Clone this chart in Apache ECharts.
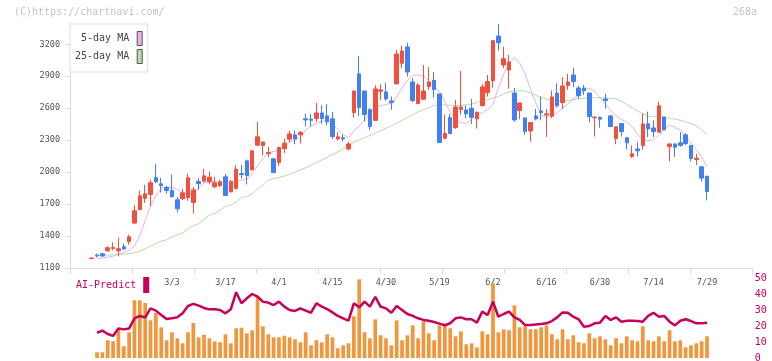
<!DOCTYPE html>
<html>
<head>
<meta charset="utf-8">
<script src="https://cdn.jsdelivr.net/npm/echarts@6/dist/echarts.min.js"></script>
<style>
    html, body { margin: 0; padding: 0; background: #fff; }
    #chart { width: 772px; height: 361px; }
</style>
</head>
<body>
<div id="chart"></div>
<script>
// trading days (2026), one per candle
const dates = [
    '2/6', '2/9', '2/10', '2/12', '2/13', '2/16', '2/17', '2/18', '2/19', '2/20',
    '2/24', '2/25', '2/26', '2/27', '3/2', '3/3', '3/4', '3/5', '3/6', '3/9',
    '3/10', '3/11', '3/12', '3/13', '3/16', '3/17', '3/18', '3/19', '3/23', '3/24',
    '3/25', '3/26', '3/27', '3/30', '3/31', '4/1', '4/2', '4/3', '4/6', '4/7',
    '4/8', '4/9', '4/10', '4/13', '4/14', '4/15', '4/16', '4/17', '4/20', '4/21',
    '4/22', '4/23', '4/24', '4/27', '4/28', '4/30', '5/1', '5/7', '5/8', '5/11',
    '5/12', '5/13', '5/14', '5/15', '5/18', '5/19', '5/20', '5/21', '5/22', '5/25',
    '5/26', '5/27', '5/28', '5/29', '6/1', '6/2', '6/3', '6/4', '6/5', '6/8',
    '6/9', '6/10', '6/11', '6/12', '6/15', '6/16', '6/17', '6/18', '6/19', '6/22',
    '6/23', '6/24', '6/25', '6/26', '6/29', '6/30', '7/1', '7/2', '7/3', '7/6',
    '7/7', '7/8', '7/9', '7/10', '7/13', '7/14', '7/15', '7/16', '7/17', '7/21',
    '7/22', '7/23', '7/24', '7/27', '7/28', '7/29'
];
// dates that get a label under the chart
const tickDates = ['3/3', '3/17', '4/1', '4/15', '4/30', '5/19', '6/2', '6/16', '6/30', '7/14', '7/29'];
const priceTicks = [1100, 1400, 1700, 2000, 2300, 2600, 2900, 3200];

const openP = [
    1190, 1222, 1234, 1262, 1284, 1262, 1300, 1346, 1522, 1647,
    1753, 1790, 1947, 1890, 1856, 1828, 1740, 1750, 1762, 1715,
    1912, 1916, 1909, 1862, 1872, 1956, 1815, 1846, 1987, 2106,
    2022, 2253, 2250, 2175, 2125, 2090, 2222, 2309, 2350, 2350,
    2500, 2497, 2503, 2556, 2528, 2500, 2312, 2322, 2218, 2559,
    2922, 2762, 2587, 2484, 2759, 2753, 2668, 2828, 3022, 3175,
    2847, 2643, 2684, 2803, 2862, 2734, 2318, 2512, 2418, 2587,
    2584, 2600, 2500, 2625, 2746, 2859, 3278, 3006, 2959, 2743,
    2578, 2509, 2387, 2528, 2575, 2537, 2525, 2740, 2653, 2812,
    2912, 2790, 2790, 2743, 2512, 2515, 2687, 2528, 2315, 2456,
    2322, 2147, 2218, 2250, 2453, 2415, 2375, 2518, 2240, 2265,
    2275, 2350, 2250, 2118, 2050, 1962
];
const closeP = [
    1194, 1214, 1212, 1290, 1293, 1281, 1278, 1393, 1637, 1778,
    1797, 1900, 1909, 1872, 1828, 1768, 1656, 1806, 1947, 1834,
    1893, 1965, 1953, 1900, 1909, 1781, 1909, 2028, 1978, 1968,
    2200, 2331, 2284, 2184, 1996, 2231, 2272, 2359, 2312, 2372,
    2490, 2487, 2556, 2503, 2472, 2334, 2331, 2312, 2265, 2762,
    2606, 2540, 2428, 2781, 2772, 2687, 2653, 3109, 3137, 2940,
    2672, 2818, 2762, 2847, 2775, 2278, 2362, 2362, 2612, 2612,
    2547, 2515, 2562, 2800, 2850, 3234, 3215, 3065, 3034, 2490,
    2650, 2381, 2465, 2500, 2559, 2547, 2706, 2622, 2809, 2847,
    2850, 2718, 2765, 2522, 2518, 2497, 2672, 2428, 2425, 2381,
    2275, 2172, 2200, 2453, 2406, 2381, 2622, 2397, 2265, 2234,
    2250, 2268, 2128, 2131, 1944, 1818
];
const lowP = [
    1188, 1199, 1209, 1253, 1265, 1209, 1272, 1318, 1515, 1647,
    1712, 1678, 1897, 1809, 1797, 1765, 1621, 1740, 1731, 1612,
    1834, 1903, 1887, 1850, 1862, 1775, 1809, 1840, 1940, 1884,
    2015, 2253, 2156, 2143, 1996, 2059, 2178, 2278, 2262, 2268,
    2428, 2428, 2472, 2453, 2440, 2309, 2297, 2287, 2203, 2512,
    2528, 2475, 2397, 2484, 2678, 2672, 2584, 2828, 2975, 2896,
    2656, 2643, 2684, 2772, 2700, 2278, 2309, 2362, 2406, 2537,
    2506, 2453, 2409, 2615, 2709, 2793, 3140, 2975, 2784, 2475,
    2497, 2350, 2287, 2487, 2487, 2331, 2506, 2606, 2593, 2772,
    2797, 2687, 2725, 2469, 2334, 2418, 2597, 2422, 2262, 2334,
    2212, 2134, 2147, 2209, 2328, 2328, 2375, 2397, 2100, 2143,
    2240, 2253, 2100, 2068, 1912, 1734
];
const highP = [
    1196, 1234, 1240, 1303, 1340, 1384, 1328, 1412, 1690, 1828,
    1881, 1928, 2078, 1947, 1872, 1978, 1768, 1843, 1984, 1859,
    1944, 2031, 2006, 1956, 1928, 1984, 1928, 2068, 2068, 2118,
    2203, 2472, 2284, 2237, 2134, 2240, 2315, 2390, 2390, 2387,
    2547, 2547, 2650, 2628, 2640, 2565, 2375, 2353, 2284, 2762,
    3090, 2762, 2600, 2815, 2825, 2840, 2709, 3147, 3187, 3215,
    2884, 2834, 3006, 2987, 2940, 2734, 2540, 2547, 2678, 2950,
    2625, 2687, 2568, 2825, 2912, 3240, 3390, 3178, 3100, 2790,
    2650, 2509, 2465, 2593, 2709, 2593, 2768, 2834, 2890, 2922,
    2978, 2809, 2818, 2743, 2518, 2522, 2734, 2537, 2425, 2456,
    2322, 2250, 2281, 2553, 2568, 2487, 2659, 2518, 2265, 2265,
    2375, 2365, 2256, 2172, 2059, 1962
];
const ma5 = [
    null, 1186, 1193, 1201, 1211, 1229, 1245, 1267, 1309, 1403,
    1543, 1684, 1778, 1850, 1859, 1859, 1839, 1801, 1797, 1803,
    1848, 1900, 1912, 1909, 1904, 1911, 1912, 1918, 1923, 1934,
    1990, 2060, 2130, 2181, 2195, 2203, 2233, 2284, 2303, 2327,
    2397, 2431, 2458, 2474, 2488, 2456, 2400, 2354, 2322, 2387,
    2434, 2490, 2551, 2600, 2625, 2635, 2645, 2706, 2790, 2860,
    2908, 2912, 2903, 2860, 2800, 2758, 2659, 2561, 2495, 2462,
    2458, 2493, 2537, 2556, 2584, 2640, 2790, 2922, 3020, 3076,
    3022, 2922, 2781, 2650, 2533, 2518, 2533, 2556, 2598, 2640,
    2687, 2726, 2767, 2787, 2762, 2697, 2640, 2579, 2528, 2495,
    2467, 2429, 2354, 2308, 2295, 2303, 2350, 2397, 2443, 2420,
    2397, 2340, 2275, 2209, 2143, 2053
];
const ma25 = [
    null, 1215, 1218, 1221, 1224, 1227, 1230, 1234, 1242, 1259,
    1280, 1305, 1330, 1352, 1365, 1390, 1414, 1427, 1464, 1497,
    1517, 1558, 1597, 1612, 1644, 1678, 1690, 1718, 1764, 1771,
    1795, 1843, 1876, 1923, 1939, 1950, 1963, 1980, 2000, 2020,
    2040, 2066, 2090, 2115, 2140, 2165, 2190, 2220, 2250, 2280,
    2305, 2324, 2344, 2365, 2388, 2412, 2435, 2460, 2485, 2511,
    2539, 2564, 2585, 2606, 2627, 2631, 2631, 2628, 2625, 2627,
    2632, 2638, 2653, 2669, 2683, 2695, 2711, 2734, 2753, 2762,
    2762, 2762, 2742, 2722, 2702, 2684, 2673, 2668, 2668, 2670,
    2681, 2689, 2695, 2698, 2698, 2697, 2697, 2692, 2687, 2666,
    2636, 2603, 2573, 2548, 2528, 2522, 2517, 2512, 2508, 2496,
    2488, 2472, 2457, 2435, 2397, 2356
];
const volume = [
    null, 57, 57, 177, 167, 293, 117, 257, 577, 577,
    550, 377, 450, 307, 177, 257, 197, 147, 257, 350,
    207, 233, 197, 167, 157, 237, 147, 297, 303, 247,
    277, 610, 317, 237, 207, 207, 223, 207, 187, 157,
    257, 127, 177, 157, 237, 207, 97, 127, 147, 417,
    787, 257, 197, 387, 227, 197, 127, 377, 177, 227,
    327, 197, 367, 247, 177, 327, 347, 297, 217, 267,
    137, 147, 107, 267, 237, 747, 257, 287, 277, 527,
    307, 317, 287, 287, 307, 327, 237, 187, 287, 187,
    227, 157, 147, 247, 197, 217, 187, 127, 197, 147,
    217, 177, 167, 317, 177, 167, 217, 167, 277, 167,
    177, 107, 127, 147, 167, 217
];
const aiPredict = [
    null, 15.8, 17.1, 15.0, 13.8, 18.5, 17.9, 18.5, 24.8, 26.3,
    25.4, 31.0, 29.6, 26.9, 24.4, 24.8, 25.4, 27.9, 32.5, 33.8,
    32.7, 31.3, 30.4, 30.4, 30.0, 27.9, 30.4, 41.1, 34.2, 37.3,
    40.0, 38.3, 35.2, 34.6, 33.1, 35.2, 32.1, 30.0, 29.4, 31.0,
    29.6, 28.3, 34.2, 32.1, 30.6, 28.5, 26.3, 24.8, 23.3, 34.2,
    31.7, 35.2, 32.1, 38.3, 32.1, 31.0, 28.3, 32.5, 30.0, 27.5,
    26.3, 24.8, 23.8, 23.3, 22.5, 21.5, 20.4, 21.7, 24.8, 25.4,
    24.2, 24.2, 22.1, 29.0, 26.9, 35.2, 25.8, 27.5, 29.0, 25.4,
    23.8, 20.6, 20.6, 21.0, 21.3, 21.7, 23.1, 25.4, 28.5, 28.3,
    25.8, 24.2, 19.6, 20.0, 21.7, 22.1, 26.3, 23.8, 25.4, 22.7,
    23.3, 23.3, 23.1, 22.7, 26.3, 28.3, 25.8, 26.3, 22.7, 20.4,
    23.3, 24.2, 23.1, 21.7, 21.7, 22.1
];

const FONT = '"DejaVu Sans Mono", monospace';
const RED = '#f0503c';
const BLUE = '#4080f0';
const PINK = '#e8b2e8';
const GREEN = '#b8dca8';
const ORANGE = '#f2963e';
const MAGENTA = '#c8005a';
const AXIS = '#dcdcdc';

const candleData = dates.map((d, i) => [openP[i], closeP[i], lowP[i], highP[i]]);

const myChart = echarts.init(document.getElementById('chart'));

const option = {
    animation: false,
    backgroundColor: '#fff',
    title: [{
        text: '(C)https://chartnavi.com/',
        left: 14,
        top: 7,
        padding: 0,
        textStyle: { fontFamily: FONT, fontSize: 10, fontWeight: 'normal', color: '#c4c4c4' }
    }, {
        text: '268a',
        right: 15,
        top: 7,
        padding: 0,
        textStyle: { fontFamily: FONT, fontSize: 10, fontWeight: 'normal', color: '#c4c4c4' }
    }],
    legend: [{
        data: [
            { name: '5-day MA', itemStyle: { color: PINK, borderColor: '#555', borderWidth: 1 } },
            { name: '25-day MA', itemStyle: { color: GREEN, borderColor: '#555', borderWidth: 1 } }
        ],
        orient: 'vertical',
        left: 70,
        top: 24,
        align: 'right',
        icon: 'rect',
        itemWidth: 5,
        itemHeight: 14,
        itemGap: 3,
        padding: [7, 5, 8, 5],
        backgroundColor: '#fff',
        borderColor: '#dddddd',
        borderWidth: 1,
        selectedMode: false,
        textStyle: { fontFamily: FONT, fontSize: 10, color: '#444', padding: [0, 3, 0, 0] }
    }, {
        data: [{ name: 'AI-Predict', itemStyle: { color: MAGENTA } }],
        left: 76,
        top: 277,
        align: 'right',
        icon: 'rect',
        itemWidth: 6,
        itemHeight: 16,
        padding: 0,
        selectedMode: false,
        textStyle: { fontFamily: FONT, fontSize: 10, color: MAGENTA, padding: [0, 2, 0, 0] }
    }],
    grid: [
        { left: 89, top: 23, width: 620.7, height: 245, outerBoundsMode: 'none' },
        { left: 89, top: 278, width: 620.7, height: 80, outerBoundsMode: 'none' },
        { left: 70, top: 23, width: 682, height: 245, outerBoundsMode: 'none' }
    ],
    xAxis: [{
        type: 'category',
        gridIndex: 0,
        data: dates,
        boundaryGap: true,
        axisLine: { show: false },
        axisTick: { show: false },
        splitLine: { show: false },
        axisLabel: {
            interval: (idx, val) => tickDates.indexOf(val) >= 0,
            margin: 10,
            fontFamily: FONT,
            fontSize: 8.5,
            color: '#555'
        }
    }, {
        type: 'category',
        gridIndex: 1,
        data: dates,
        boundaryGap: true,
        show: false
    }, {
        type: 'value',
        gridIndex: 2,
        min: 0,
        max: 11,
        interval: 1,
        axisLine: { show: true, lineStyle: { color: AXIS, width: 1 } },
        axisTick: { show: true, length: 6, lineStyle: { color: AXIS } },
        axisLabel: { show: false },
        splitLine: { show: false }
    }],
    yAxis: [{
        type: 'value',
        gridIndex: 0,
        min: 1100,
        max: 3400,
        show: false
    }, {
        type: 'value',
        gridIndex: 1,
        min: 0,
        max: 800,
        show: false
    }, {
        type: 'value',
        gridIndex: 1,
        min: 0,
        max: 50,
        interval: 10,
        position: 'right',
        offset: 43,
        axisLine: { show: false },
        axisTick: { show: false },
        splitLine: { show: false },
        axisLabel: { margin: 2, fontFamily: FONT, fontSize: 10, color: MAGENTA }
    }, {
        type: 'value',
        gridIndex: 2,
        min: 1100,
        max: 3400,
        axisLine: { show: true, lineStyle: { color: AXIS, width: 1 } },
        axisTick: { show: true, length: 5, lineStyle: { color: AXIS }, customValues: priceTicks },
        axisLabel: {
            customValues: priceTicks,
            formatter: v => String(v),
            margin: 10,
            fontFamily: FONT,
            fontSize: 8.5,
            color: '#555'
        },
        splitLine: { show: false }
    }],
    series: [{
        name: '25-day MA',
        type: 'line',
        xAxisIndex: 0,
        yAxisIndex: 0,
        data: ma25,
        symbol: 'none',
        z: 2,
        itemStyle: { color: GREEN },
        lineStyle: { color: GREEN, width: 1 }
    }, {
        name: '5-day MA',
        type: 'line',
        xAxisIndex: 0,
        yAxisIndex: 0,
        data: ma5,
        symbol: 'none',
        z: 2,
        itemStyle: { color: PINK },
        lineStyle: { color: PINK, width: 1 }
    }, {
        name: 'price',
        type: 'candlestick',
        xAxisIndex: 0,
        yAxisIndex: 0,
        data: candleData,
        barWidth: 4,
        z: 3,
        itemStyle: {
            color: RED,
            color0: BLUE,
            borderColor: RED,
            borderColor0: BLUE,
            borderWidth: 1
        }
    }, {
        name: 'volume',
        type: 'bar',
        xAxisIndex: 1,
        yAxisIndex: 1,
        data: volume,
        barWidth: 3.7,
        itemStyle: { color: ORANGE }
    }, {
        name: 'AI-Predict',
        type: 'line',
        xAxisIndex: 1,
        yAxisIndex: 2,
        data: aiPredict,
        symbol: 'none',
        z: 3,
        itemStyle: { color: MAGENTA },
        lineStyle: { color: MAGENTA, width: 2.5 }
    }]
};

myChart.setOption(option);
</script>
</body>
</html>
